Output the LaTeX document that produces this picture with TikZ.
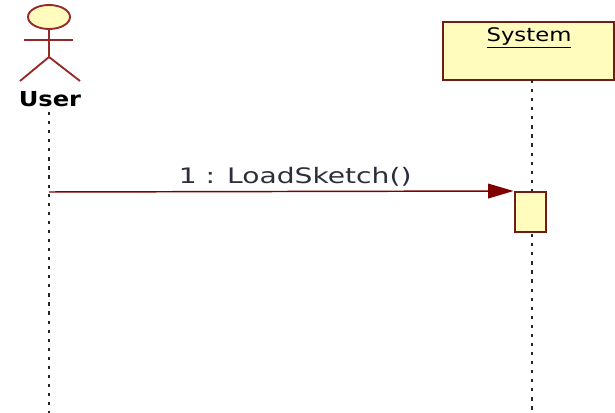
\documentclass[tikz,border=0pt]{standalone}
\usepackage{fontspec}
\setmainfont{DejaVu Sans}
\usetikzlibrary{arrows.meta}
\usetikzlibrary{positioning}

\definecolor{umlred}{RGB}{128,0,0}
\definecolor{actorred}{RGB}{150,40,40}
\definecolor{umlbrown}{RGB}{110,30,20}
\definecolor{umlfill}{RGB}{255,252,190}
\definecolor{labelgray}{RGB}{45,45,60}

\begin{document}
\begin{tikzpicture}[x=0.75pt,y=0.75pt,yscale=-1,xscale=1,
	lifeline/.style={line width=1.9pt, color=black!85, dash pattern=on 2.4pt off 4.4pt},
	umlbox/.style={draw=umlbrown, fill=umlfill, line width=1.5pt},
	stick/.style={color=actorred, line width=1.4pt},
	msg/.style={color=umlred, line width=1.1pt, -{Triangle[length=19pt,width=11pt]}}]
\useasboundingbox (0,0) rectangle (615,413);

%Shape: Actor
\draw [stick] (49,29) -- (49,57) ;
\draw [stick] (24,40) -- (73,40) ;
\draw [stick] (49,57) -- (20,81) ;
\draw [stick] (49,57) -- (80,81) ;
\draw [stick, fill=umlfill] (49,17) ellipse (21 and 12) ;
% Text Node
\node (user) at (50,99) [font=\fontsize{15.5}{18}\selectfont\bfseries, xscale=1.17] {User};

%Shape: Object box
\draw [umlbox] (443,22) rectangle (614,80) ;
\coordinate (sysbottom) at (532,80);
% Text Node
\node (system) at (529,38) [font=\fontsize{14}{17}\selectfont, xscale=1.22] {\underline{System}};

%Lifelines
\coordinate (userend) at (49,413);
\coordinate (sysend) at (532,413);
\draw [lifeline] (49,112) -- (userend) ;
\draw [lifeline] (sysbottom) -- (sysend) ;

%Shape: Activation
\node (act) at (530,212) [umlbox, minimum width=23.25pt, minimum height=30pt, inner sep=0pt] {};

%Message
\coordinate (call) at (49,192);
\draw [msg] (call) -- node [pos=0.53, above=0pt, text=labelgray, font=\fontsize{16}{19}\selectfont, xscale=1.32] (load) {1 : LoadSketch()} (act.north west) ;
\end{tikzpicture}
\end{document}
